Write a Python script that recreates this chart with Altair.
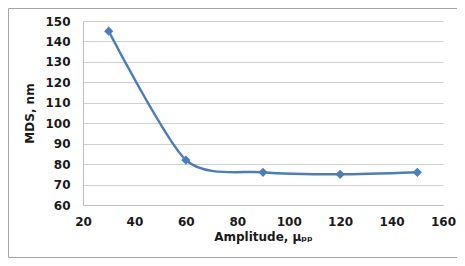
import altair as alt
import pandas as pd

amplitude = [30, 60, 90, 120, 150]
mds = [145, 82, 76, 75, 76]

df = pd.DataFrame({"amp": amplitude, "mds": mds})
BLUE = "#4a7ebb"
FONT = "DejaVu Sans"

x = alt.X("amp:Q", scale=alt.Scale(domain=[20, 160], nice=False),
          axis=alt.Axis(values=[20, 40, 60, 80, 100, 120, 140, 160], grid=False,
                        ticks=False, domain=True, domainColor="#bfbfbf", labelFlush=False,
                        labelPadding=11, title="Amplitude, μₚₚ", titlePadding=4))
y = alt.Y("mds:Q", scale=alt.Scale(domain=[60, 150], nice=False, zero=False),
          axis=alt.Axis(values=list(range(60, 151, 10)), grid=True, gridColor="#d0d0d0",
                        ticks=False, domain=True, domainColor="#bfbfbf", labelFlush=False,
                        labelPadding=13, title="MDS, nm", titlePadding=8))

line = alt.Chart(df).mark_line(color=BLUE, strokeWidth=2.5, interpolate="cardinal",
                               tension=0.25).encode(x=x, y=y)
pts = alt.Chart(df).mark_point(shape="diamond", filled=True, color=BLUE, size=85, opacity=1).encode(x=x, y=y)

one = pd.DataFrame({"a": [0]})
frame_style = dict(stroke="#a6a6a6", strokeWidth=1, clip=False)
left_edge = alt.Chart(one).mark_rule(**frame_style).encode(
    x=alt.value(-74.5), y=alt.value(-12.5), y2=alt.value(236.5))
top_edge = alt.Chart(one).mark_rule(**frame_style).encode(
    x=alt.value(-74.5), x2=alt.value(374), y=alt.value(-12.5))
bottom_edge = alt.Chart(one).mark_rule(**frame_style).encode(
    x=alt.value(-74.5), x2=alt.value(374), y=alt.value(236.5))

chart = alt.layer(left_edge, top_edge, bottom_edge, line, pts).properties(
    width=360, height=184,
    autosize=alt.AutoSizeParams(type="none"),
    padding={"left": 75, "top": 13, "right": 14, "bottom": 53},
).configure_view(stroke=None).configure_axis(
    labelFont=FONT, labelFontSize=12, labelFontWeight="bold", labelColor="#1a1a1a",
    titleFont=FONT, titleFontSize=12, titleFontWeight="bold", titleColor="#1a1a1a",
)

chart.save("out.html", embed_options={"renderer": "svg", "actions": False})
